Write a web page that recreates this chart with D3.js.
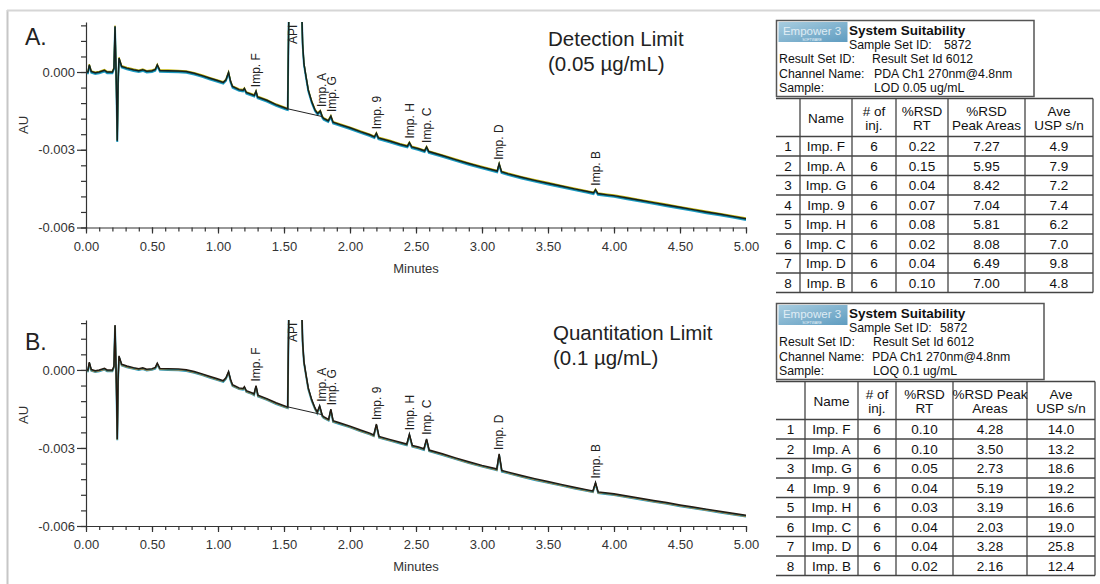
<!DOCTYPE html>
<html>
<head>
<meta charset="utf-8">
<script src="https://cdn.jsdelivr.net/npm/d3@7"></script>
<style>
  body { margin: 0; background: #fff; }
  text { font-family: "Liberation Sans", Arial, sans-serif; }
</style>
</head>
<body>
<script>
// ---- data (AU values stored in units of 0.001 AU) ----

var traceA = [
  [0.00,0.00],[0.015,0.00],[0.025,0.28],[0.04,0.02],[0.07,-0.03],[0.10,0.00],[0.14,0.07],[0.16,0.00],
  [0.20,0.00],[0.212,0.15],[0.220,1.77],[0.230,-0.5],[0.237,-2.65],[0.243,-0.4],[0.25,0.54],[0.27,0.22],
  [0.31,0.15],[0.36,0.09],[0.40,0.05],[0.43,0.09],[0.46,0.03],[0.50,0.05],[0.525,0.10],[0.54,0.28],
  [0.56,0.06],[0.62,0.05],[0.70,0.04],[0.76,0.02],[0.82,-0.05],[0.88,-0.14],[0.94,-0.24],[0.99,-0.32],
  [1.04,-0.40],[1.06,-0.30],[1.08,-0.01],[1.095,-0.35],[1.11,-0.56],[1.16,-0.68],[1.19,-0.70],[1.20,-0.63],
  [1.215,-0.79],[1.26,-0.87],[1.275,-0.90],[1.288,-0.74],[1.30,-0.96],[1.37,-1.09],[1.44,-1.26],[1.52,-1.41],
  [1.528,-1.42],[1.538,3.0],[1.60,4.0],[1.634,2.5],[1.641,1.10],[1.651,0.33],[1.667,-0.18],[1.684,-0.69],
  [1.71,-1.14],[1.735,-1.46],[1.755,-1.60],[1.775,-1.50],[1.79,-1.72],[1.80,-1.79],[1.835,-1.88],[1.855,-1.70],
  [1.872,-1.94],[1.92,-2.02],[2.00,-2.15],[2.08,-2.30],[2.15,-2.42],[2.185,-2.50],[2.20,-2.36],[2.215,-2.54],
  [2.30,-2.66],[2.38,-2.79],[2.435,-2.86],[2.45,-2.72],[2.468,-2.89],[2.52,-2.96],[2.565,-3.04],[2.58,-2.89],
  [2.597,-3.07],[2.70,-3.22],[2.80,-3.38],[2.90,-3.53],[3.00,-3.67],[3.10,-3.80],[3.115,-3.82],[3.13,-3.54],
  [3.148,-3.85],[3.20,-3.93],[3.30,-4.06],[3.40,-4.18],[3.50,-4.29],[3.60,-4.40],[3.70,-4.51],[3.80,-4.61],
  [3.845,-4.66],[3.86,-4.54],[3.878,-4.69],[3.95,-4.74],[4.00,-4.77],[4.10,-4.86],[4.20,-4.95],[4.30,-5.04],
  [4.40,-5.13],[4.50,-5.22],[4.60,-5.31],[4.70,-5.40],[4.80,-5.48],[4.90,-5.57],[5.00,-5.66]
];

var traceB = [
  [0.00,0.00],[0.015,0.00],[0.025,0.30],[0.04,0.02],[0.07,-0.03],[0.10,0.00],[0.14,0.06],[0.16,0.00],
  [0.20,0.00],[0.212,0.15],[0.220,1.73],[0.230,-0.5],[0.237,-2.65],[0.243,-0.4],[0.25,0.54],[0.27,0.22],
  [0.31,0.15],[0.36,0.09],[0.40,0.05],[0.43,0.08],[0.46,0.03],[0.50,0.05],[0.525,0.10],[0.54,0.26],
  [0.56,0.06],[0.62,0.05],[0.70,0.04],[0.76,0.01],[0.82,-0.06],[0.88,-0.15],[0.94,-0.25],[0.99,-0.33],
  [1.04,-0.41],[1.06,-0.30],[1.08,-0.06],[1.095,-0.36],[1.11,-0.57],[1.16,-0.69],[1.19,-0.71],[1.20,-0.64],
  [1.215,-0.80],[1.26,-0.88],[1.273,-0.92],[1.288,-0.60],[1.303,-0.97],[1.37,-1.10],[1.44,-1.26],[1.52,-1.41],
  [1.528,-1.42],[1.538,3.0],[1.60,4.0],[1.634,2.5],[1.641,1.10],[1.651,0.33],[1.667,-0.18],[1.684,-0.69],
  [1.71,-1.14],[1.735,-1.46],[1.752,-1.62],[1.77,-1.38],[1.79,-1.74],[1.80,-1.80],[1.838,-1.90],[1.855,-1.51],
  [1.872,-1.95],[1.92,-2.03],[2.00,-2.16],[2.08,-2.31],[2.15,-2.43],[2.18,-2.50],[2.20,-2.08],[2.22,-2.56],
  [2.30,-2.67],[2.38,-2.78],[2.43,-2.85],[2.45,-2.47],[2.472,-2.90],[2.52,-2.96],[2.56,-3.03],[2.58,-2.65],
  [2.60,-3.08],[2.70,-3.22],[2.80,-3.38],[2.90,-3.53],[3.00,-3.67],[3.10,-3.79],[3.112,-3.81],[3.13,-3.23],
  [3.15,-3.86],[3.20,-3.93],[3.30,-4.06],[3.40,-4.18],[3.50,-4.29],[3.60,-4.40],[3.70,-4.51],[3.80,-4.61],
  [3.84,-4.65],[3.86,-4.33],[3.88,-4.69],[3.95,-4.73],[4.00,-4.76],[4.10,-4.85],[4.20,-4.93],[4.30,-5.02],
  [4.40,-5.10],[4.50,-5.19],[4.60,-5.27],[4.70,-5.35],[4.80,-5.43],[4.90,-5.51],[5.00,-5.59]
];

// drawn integration baseline under the API peak
var apiBaseA = [[1.52,-1.41],[1.79,-1.72]];
var apiBaseB = [[1.52,-1.41],[1.79,-1.72]];

// peak labels: name and retention time (min)
var peakNames = ["Imp. F","API","Imp. A","Imp. G","Imp. 9","Imp. H","Imp. C","Imp. D","Imp. B"];
var peakTimes = [1.288, 1.565, 1.785, 1.862, 2.20, 2.45, 2.58, 3.13, 3.86];

var xMajorTicks = [0,0.5,1,1.5,2,2.5,3,3.5,4,4.5,5];
var yMajorTicks = [-6,-3,0];

// system suitability tables
var impNames = ["Imp. F","Imp. A","Imp. G","Imp. 9","Imp. H","Imp. C","Imp. D","Imp. B"];
var injA = [6,6,6,6,6,6,6,6];
var rsdRtA = [0.22,0.15,0.04,0.07,0.08,0.02,0.04,0.10];
var rsdAreaA = [7.27,5.95,8.42,7.04,5.81,8.08,6.49,7.00];
var snA = [4.9,7.9,7.2,7.4,6.2,7.0,9.8,4.8];
var injB = [6,6,6,6,6,6,6,6];
var rsdRtB = [0.10,0.10,0.05,0.04,0.03,0.04,0.04,0.02];
var rsdAreaB = [4.28,3.50,2.73,5.19,3.19,2.03,3.28,2.16];
var snB = [14.0,13.2,18.6,19.2,16.6,19.0,25.8,12.4];

var headA = [[""],["Name"],["# of","inj."],["%RSD","RT"],["%RSD","Peak Areas"],["Ave","USP s/n"]];
var headB = [[""],["Name"],["# of","inj."],["%RSD","RT"],["%RSD Peak","Areas"],["Ave","USP s/n"]];

var infoLabels = ["Result Set ID:","Channel Name:","Sample:"];
var infoA = ["Result Set Id 6012","PDA Ch1 270nm@4.8nm","LOD 0.05 ug/mL"];
var infoB = ["Result Set Id 6012","PDA Ch1 270nm@4.8nm","LOQ 0.1 ug/mL"];

// -------------------------------------------------------------------------

var svg = d3.select("body").append("svg")
    .attr("width", 1100)
    .attr("height", 584);

var defs = svg.append("defs");
var grad = defs.append("linearGradient").attr("id", "logoGrad")
    .attr("x1", "0").attr("y1", "0").attr("x2", "1").attr("y2", "1");
grad.append("stop").attr("offset", "0%").attr("stop-color", "#a8cde0");
grad.append("stop").attr("offset", "100%").attr("stop-color", "#5f9cc0");

// outer frame (light gray)
svg.append("line").attr("x1", 7.5).attr("y1", 10).attr("x2", 7.5).attr("y2", 584)
    .attr("stroke", "#c6c6c6").attr("stroke-width", 2);
svg.append("line").attr("x1", 7).attr("y1", 10.5).attr("x2", 1100).attr("y2", 10.5)
    .attr("stroke", "#d6d6d6").attr("stroke-width", 2);

function drawChart(cfg) {
    var g = svg.append("g");
    var x = d3.scaleLinear().domain([0, 5]).range([86, 746]);
    var y = d3.scaleLinear().domain([-6, cfg.top]).range([cfg.yBottom, cfg.yTop]);

    var clipId = "clip" + cfg.id;
    defs.append("clipPath").attr("id", clipId).append("rect")
        .attr("x", 86).attr("y", cfg.yTop)
        .attr("width", 660).attr("height", cfg.yBottom - cfg.yTop);

    var line = d3.line().x(function (d) { return x(d[0]); }).y(function (d) { return y(d[1]); });

    var traces = g.append("g").attr("clip-path", "url(#" + clipId + ")");
    // overlaid injections (drawn slightly apart under the main trace)
    traces.append("path").datum(cfg.trace).attr("d", line)
        .attr("transform", "translate(0,1.3)")
        .attr("fill", "none").attr("stroke", "#1f9dc6").attr("stroke-width", 1.9);
    traces.append("path").datum(cfg.trace).attr("d", line)
        .attr("transform", "translate(0," + cfg.altShift + ")")
        .attr("fill", "none").attr("stroke", cfg.altColor).attr("stroke-width", 1.3);
    traces.append("path").datum(cfg.trace).attr("d", line)
        .attr("transform", "translate(0,0.6)")
        .attr("fill", "none").attr("stroke", "#127a88").attr("stroke-width", 1.2);
    traces.append("path").datum(cfg.trace).attr("d", line)
        .attr("fill", "none").attr("stroke", cfg.mainColor).attr("stroke-width", 1.45);
    traces.append("path").datum(cfg.apiBase).attr("d", line)
        .attr("fill", "none").attr("stroke", "#222").attr("stroke-width", 1);

    // axes
    var yMinor = d3.range(-6, cfg.top, 0.6);
    var xMinor = d3.range(0, 5.001, 0.1);

    g.append("g").attr("transform", "translate(86,0)")
        .call(d3.axisLeft(y).tickValues(yMinor).tickSize(5).tickSizeOuter(0).tickFormat(""))
        .call(function (s) { s.select(".domain").remove(); });
    g.append("g").attr("transform", "translate(86,0)")
        .call(d3.axisLeft(y).tickValues(yMajorTicks).tickSize(9).tickSizeOuter(0).tickPadding(2)
            .tickFormat(function (d) { return (d / 1000).toFixed(3); }));

    g.append("g").attr("transform", "translate(0," + cfg.yBottom + ")")
        .call(d3.axisBottom(x).tickValues(xMinor).tickSize(4).tickSizeOuter(0).tickFormat(""))
        .call(function (s) { s.select(".domain").remove(); });
    g.append("g").attr("transform", "translate(0," + cfg.yBottom + ")")
        .call(d3.axisBottom(x).tickValues(xMajorTicks).tickSize(6).tickSizeOuter(0).tickPadding(8)
            .tickFormat(d3.format(".2f")));

    g.selectAll(".domain, .tick line").attr("stroke", "#333").attr("stroke-width", 1.2);
    g.selectAll(".tick text").attr("fill", "#333").attr("font-size", 13)
        .attr("font-family", "'Liberation Sans', Arial, sans-serif");

    // axis titles
    g.append("text").attr("x", 416).attr("y", cfg.yBottom + 45)
        .attr("text-anchor", "middle").attr("font-size", 13).attr("fill", "#333").text("Minutes");
    g.append("text").attr("transform", "translate(23," + cfg.auY + ") rotate(-90)")
        .attr("text-anchor", "middle").attr("dy", "0.35em")
        .attr("font-size", 13).attr("fill", "#333").text("AU");

    // panel letter and title
    g.append("text").attr("x", 25).attr("y", cfg.letterY)
        .attr("font-size", 23).attr("fill", "#222").text(cfg.letter);
    g.append("text").attr("x", cfg.titleX).attr("y", cfg.titleY)
        .attr("font-size", 20.5).attr("fill", "#222").text(cfg.title1);
    g.append("text").attr("x", cfg.titleX).attr("y", cfg.titleY + 25)
        .attr("font-size", 20.5).attr("fill", "#222").text(cfg.title2);

    // peak labels, placed just above each apex (off-scale apex: pinned under the top)
    peakNames.forEach(function (name, i) {
        var t = peakTimes[i];
        var apex = d3.max(cfg.trace.filter(function (p) { return Math.abs(p[0] - t) <= 0.02; }),
            function (p) { return p[1]; });
        var ly = (apex === undefined || apex > cfg.top) ? cfg.yTop + 22 : y(apex) - 4;
        g.append("text")
            .attr("transform", "translate(" + x(t) + "," + ly + ") rotate(-90)")
            .attr("dy", "0.35em").attr("font-size", 12).attr("fill", "#222")
            .text(name);
    });
}

drawChart({ id: "A", trace: traceA, apiBase: apiBaseA, top: 1.93, yTop: 22, yBottom: 227.5,
    altColor: "#c2b20a", altShift: -0.7, mainColor: "#15201f", auY: 125,
    letter: "A.", letterY: 45, titleX: 548, titleY: 46,
    title1: "Detection Limit", title2: "(0.05 \u00b5g/mL)" });

drawChart({ id: "B", trace: traceB, apiBase: apiBaseB, top: 1.92, yTop: 320, yBottom: 526,
    altColor: "#e5801c", altShift: 1.0, mainColor: "#261a10", auY: 415,
    letter: "B.", letterY: 350, titleX: 553, titleY: 340,
    title1: "Quantitation Limit", title2: "(0.1 \u00b5g/mL)" });

// ---- System Suitability tables ----
function drawTable(cfg) {
    var g = svg.append("g").attr("transform", "translate(0," + cfg.dy + ")");
    var ink = "#111";

    // header box
    g.append("rect").attr("x", 776.5).attr("y", 20.5).attr("width", cfg.boxW).attr("height", 76)
        .attr("fill", "none").attr("stroke", "#555").attr("stroke-width", 1.5);
    g.append("rect").attr("x", 778.5).attr("y", 22).attr("width", 69).attr("height", 20)
        .attr("fill", "url(#logoGrad)");
    g.append("text").attr("x", 812).attr("y", 35).attr("text-anchor", "middle")
        .attr("font-size", 11.5).attr("fill", "#eef6fb").attr("opacity", 0.85).text("Empower 3");
    g.append("text").attr("x", 812).attr("y", 40.5).attr("text-anchor", "middle")
        .attr("font-size", 3.5).attr("fill", "#eef6fb").text("SOFTWARE");

    g.append("text").attr("x", 849).attr("y", 35).attr("font-size", 13.5).attr("font-weight", "bold")
        .attr("fill", ink).text("System Suitability");
    g.append("text").attr("x", 849).attr("y", 48.5).attr("font-size", 12.3).attr("fill", ink)
        .text("Sample Set ID:");
    g.append("text").attr("x", cfg.setX).attr("y", 48.5).attr("font-size", 12.3).attr("fill", ink)
        .text("5872");
    infoLabels.forEach(function (lab, i) {
        g.append("text").attr("x", 779).attr("y", 63 + i * 14.5).attr("font-size", 12.3)
            .attr("fill", ink).text(lab);
        g.append("text").attr("x", cfg.valX[i]).attr("y", 63 + i * 14.5).attr("font-size", 12.3)
            .attr("fill", ink).text(cfg.info[i]);
    });

    // grid
    var cols = cfg.cols;
    var top = 98.5, headH = 38, rowH = 19.5, nRows = impNames.length;
    var bottom = top + headH + nRows * rowH;
    var lineCol = "#444";
    d3.range(nRows + 2).forEach(function (r) {
        var yy = r === 0 ? top : top + headH + (r - 1) * rowH;
        g.append("line").attr("x1", cols[0]).attr("x2", cols[cols.length - 1])
            .attr("y1", yy).attr("y2", yy).attr("stroke", lineCol).attr("stroke-width", 1.3);
    });
    cols.slice(1).forEach(function (cx) {
        g.append("line").attr("x1", cx).attr("x2", cx).attr("y1", top).attr("y2", bottom)
            .attr("stroke", lineCol).attr("stroke-width", 1.3);
    });

    var mid = function (c) { return (cols[c] + cols[c + 1]) / 2; };
    cfg.head.forEach(function (lines, c) {
        if (lines.length === 1) {
            g.append("text").attr("x", mid(c)).attr("y", top + 24.5).attr("text-anchor", "middle")
                .attr("font-size", 13.5).attr("fill", ink).text(lines[0]);
        } else {
            lines.forEach(function (s, k) {
                g.append("text").attr("x", mid(c)).attr("y", top + 17 + k * 14.5)
                    .attr("text-anchor", "middle").attr("font-size", 13.5).attr("fill", ink).text(s);
            });
        }
    });

    impNames.forEach(function (name, r) {
        var cells = [String(r + 1), name, String(cfg.inj[r]), cfg.rt[r].toFixed(2),
            cfg.area[r].toFixed(2), cfg.sn[r].toFixed(1)];
        var by = top + headH + r * rowH + 14.8;
        cells.forEach(function (s, c) {
            g.append("text").attr("x", mid(c)).attr("y", by).attr("text-anchor", "middle")
                .attr("font-size", 13.5).attr("fill", ink).text(s);
        });
    });
}

drawTable({ dy: 0, boxW: 257.5, setX: 944, valX: [872, 874, 874], info: infoA,
    cols: [776, 800, 852, 896, 948, 1025, 1093], head: headA,
    inj: injA, rt: rsdRtA, area: rsdAreaA, sn: snA });

drawTable({ dy: 283, boxW: 267.5, setX: 940, valX: [873, 872, 873], info: infoB,
    cols: [776, 805, 858, 896, 953, 1027, 1095], head: headB,
    inj: injB, rt: rsdRtB, area: rsdAreaB, sn: snB });
</script>
</body>
</html>
